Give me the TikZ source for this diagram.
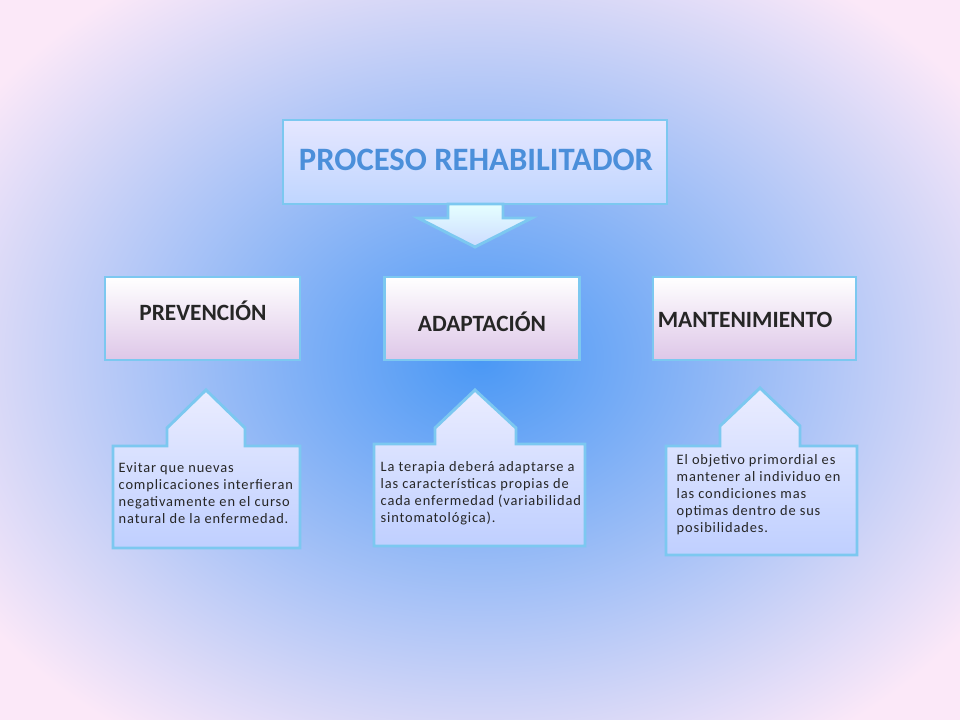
\documentclass[tikz,border=0pt]{standalone}
\usepackage{fontspec}
\setmainfont{Carlito}
\newfontfamily\cfont{Carlito}[LetterSpace=6]
\definecolor{bgc}{HTML}{4A98F5}
\definecolor{bge}{HTML}{FBE8F8}
\definecolor{edge}{HTML}{7CC8F0}
\definecolor{titc}{HTML}{4B8FDA}
\tikzset{
 glow/.style={draw=edge,line width=2.2pt},
 lvl/.style={glow,top color=white,bottom color=blue!18!violet!22,minimum width=195pt*0.75,minimum height=83pt*0.75},
 lbl/.style={font=\bfseries\fontsize{17.5}{20}\selectfont,text=black!85},
 call/.style={glow,top color=cyan!10!blue!8,bottom color=cyan!25!blue!25},
 ctext/.style={font=\cfont\fontsize{10.8}{12.75}\selectfont,align=left,text=black!85}
}
\begin{document}
\begin{tikzpicture}[x=0.75pt,y=-0.75pt]
\useasboundingbox (0,0) rectangle (960,720);
\clip (0,0) rectangle (960,720);
\fill[bge] (0,0) rectangle (960,720);
\shade[inner color=bgc,outer color=bge] (480,360) ellipse (600 and 460);
% title
\node[glow,top color=cyan!5!blue!10,bottom color=cyan!35!blue!25,minimum width=384pt*0.75,minimum height=84pt*0.75,inner sep=0] (t) at (475,162) {};
\node[font=\bfseries\fontsize{24.5}{26}\selectfont,text=titc] (tt) at (476,160) {PROCESO REHABILITADOR};
\draw[glow,top color=cyan!10,bottom color=cyan!30!blue!20] (448,204)--(503,204)--(503,218)--(532,218)--(475,247)--(418,218)--(448,218)--cycle;
% level boxes
\node[lvl,inner sep=0] (p) at (202.5,318.5) {};
\node[lbl] (pt) at (203,311) {PREVENCIÓN};
\node[lvl,inner sep=0] (a) at (482,318.5) {};
\node[lbl] (at) at (482,322) {ADAPTACIÓN};
\node[lvl,inner sep=0,minimum width=203pt*0.75] (m) at (754.5,318.5) {};
\node[lbl] (mt) at (745,320) {MANTENIMIENTO};
% callouts
\draw[call] (113,446)--(167,446)--(167,428)--(206,390)--(245,428)--(245,446)--(300,446)--(300,548)--(113,548)--cycle;
\node[ctext,anchor=north west] (c1) at (114,458) {Evitar que nuevas\\complicaciones interfieran\\negativamente en el curso\\natural de la enfermedad.};
\draw[call] (374,444)--(435,444)--(435,428)--(475,390)--(516,428)--(516,444)--(585,444)--(585,546)--(374,546)--cycle;
\node[ctext,anchor=north west] (c2) at (376,457) {La terapia deberá adaptarse a\\las características propias de\\cada enfermedad (variabilidad\\sintomatológica).};
\draw[call] (666,446)--(720,446)--(720,426)--(760,388)--(800,426)--(800,446)--(857,446)--(857,555)--(666,555)--cycle;
\node[ctext,anchor=north west] (c3) at (672,450) {El objetivo primordial es\\mantener al individuo en\\las condiciones mas\\optimas dentro de sus\\posibilidades.};
\end{tikzpicture}
\end{document}
